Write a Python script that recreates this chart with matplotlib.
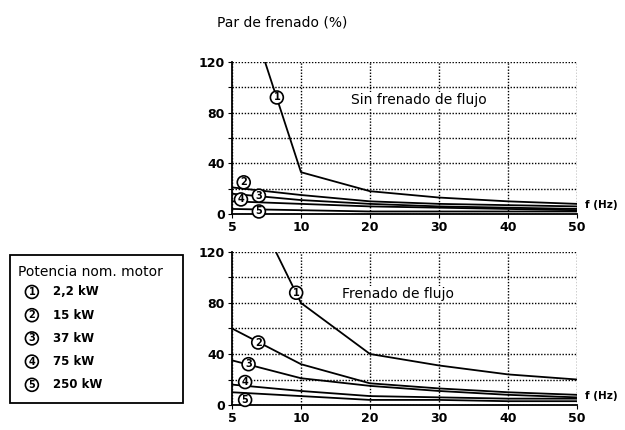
import matplotlib.pyplot as plt

freq = [5, 10, 20, 30, 40, 50]
pos = range(len(freq))

# Sin frenado de flujo
top_1 = [200, 33, 18, 13, 10, 8]
top_2 = [21, 15, 10, 8, 7, 6]
top_3 = [16, 11, 8, 6, 5, 4]
top_4 = [10, 8, 6, 5, 4, 3]
top_5 = [4, 3, 2, 2, 2, 2]

# Frenado de flujo
bot_1 = [190, 80, 40, 31, 24, 20]
bot_2 = [60, 32, 17, 13, 10, 8]
bot_3 = [35, 21, 15, 11, 8, 6]
bot_4 = [16, 11, 7, 6, 5, 5]
bot_5 = [10, 7, 4, 4, 3, 3]

motors = ['2,2 kW', '15 kW', '37 kW', '75 kW', '250 kW']

top_labels = [(0.65, 92), (0.17, 25), (0.39, 14.5), (0.13, 11.5), (0.39, 2)]
bot_labels = [(0.93, 88), (0.38, 49), (0.24, 32), (0.19, 18), (0.19, 4)]

fig = plt.figure(figsize=(6.25, 4.3), dpi=100)
ax1 = fig.add_axes([0.3712, 0.5023, 0.552, 0.3535])
ax2 = fig.add_axes([0.3712, 0.0581, 0.552, 0.356])

circ = dict(boxstyle='circle,pad=0.15', fc='white', ec='black', lw=1.2)

def setup(ax, curves, labels, text, tx, ty):
    for c in curves:
        ax.plot(pos, c, color='black', lw=1.3)
    for i, (lx, ly) in enumerate(labels):
        ax.text(lx, ly, str(i + 1), ha='center', va='center', fontsize=7,
                fontweight='bold', bbox=circ, zorder=5)
    ax.set_xlim(0, 5)
    ax.set_ylim(0, 120)
    ax.set_yticks(range(0, 121, 20))
    ax.set_yticklabels(['0', '', '40', '', '80', '', '120'])
    ax.set_xticks(list(pos))
    ax.set_xticklabels([str(f) for f in freq])
    ax.grid(True, color='black', linestyle=(0, (1, 1.2)), lw=1)
    for s in ['top', 'right']:
        ax.spines[s].set_visible(False)
    ax.spines['left'].set_linewidth(1.3)
    ax.spines['bottom'].set_linewidth(1.3)
    ax.tick_params(labelsize=9, length=3, pad=2)
    for t in ax.get_xticklabels() + ax.get_yticklabels():
        t.set_fontweight('bold')
    ax.text(tx, ty, text, ha='center', va='center', fontsize=10,
            bbox=dict(fc='white', ec='none', pad=1))
    ax.text(5.12, 7, 'f (Hz)', ha='left', va='center', fontsize=7.5,
            fontweight='bold', clip_on=False)

setup(ax1, [top_1, top_2, top_3, top_4, top_5], top_labels,
      'Sin frenado de flujo', 2.71, 90)
setup(ax2, [bot_1, bot_2, bot_3, bot_4, bot_5], bot_labels,
      'Frenado de flujo', 2.4, 87)

fig.text(0.347, 0.947, 'Par de frenado (%)', fontsize=10, va='center')

# legend box
leg = plt.Rectangle((0.016, 0.0628), 0.277, 0.344, transform=fig.transFigure,
                    fill=False, ec='black', lw=1.3)
fig.patches.append(leg)
fig.text(0.028, 0.367, 'Potencia nom. motor', fontsize=10, va='center')
for i, m in enumerate(motors):
    y = 0.321 - i * 0.054
    fig.text(0.051, y, str(i + 1), ha='center', va='center', fontsize=7,
             fontweight='bold', bbox=circ)
    fig.text(0.085, y, m, va='center', fontsize=8.5, fontweight='bold')

plt.savefig('out.png', dpi=100)
